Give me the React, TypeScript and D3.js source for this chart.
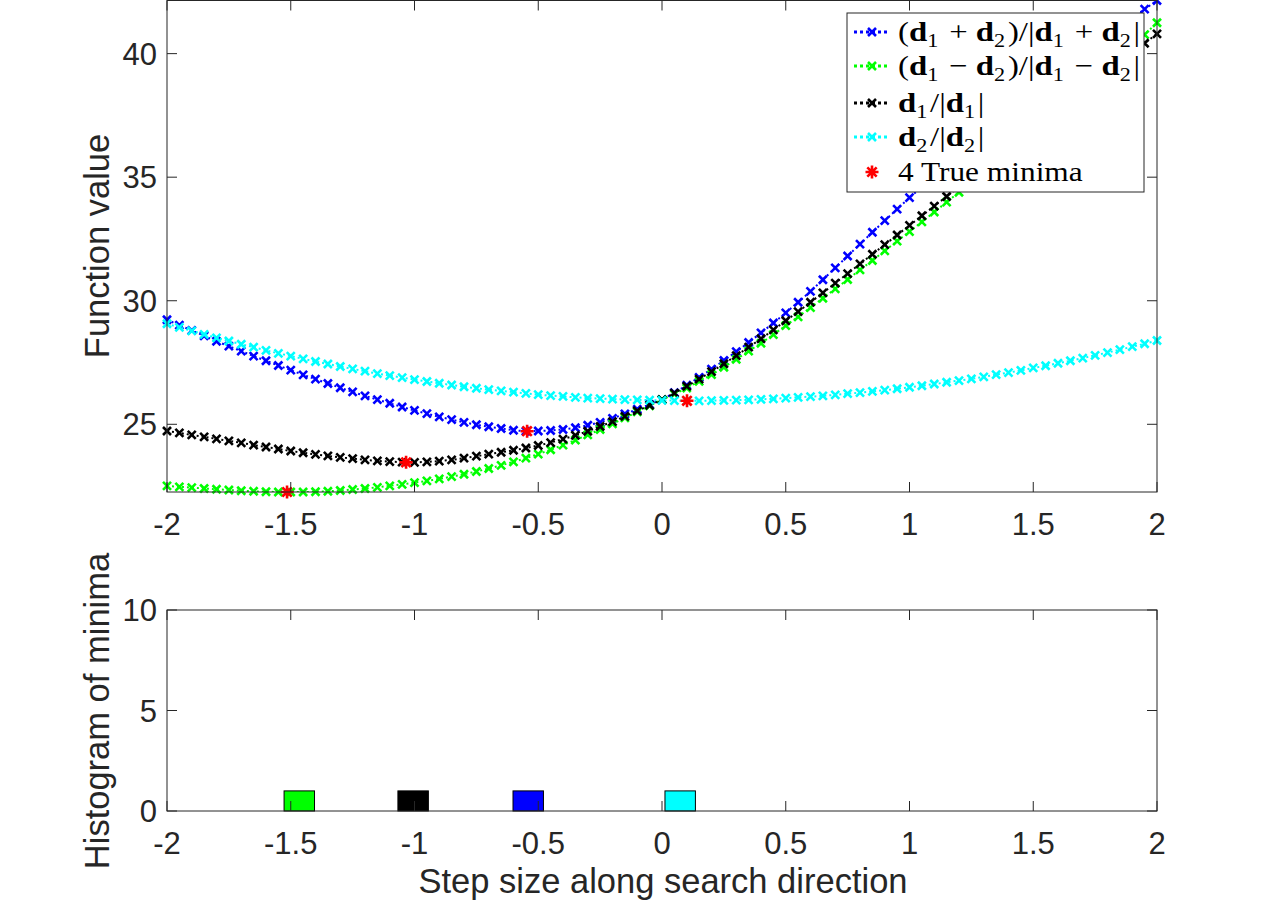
import * as d3 from 'd3';
import React from 'react';

// step sizes sampled along the search direction
const stepSizes = [
  -2, -1.95, -1.9, -1.85, -1.8, -1.75, -1.7, -1.65, -1.6, -1.55, -1.5, -1.45, -1.4, -1.35, -1.3, -1.25, -1.2,
  -1.15, -1.1, -1.05, -1, -0.95, -0.9, -0.85, -0.8, -0.75, -0.7, -0.65, -0.6, -0.55, -0.5, -0.45, -0.4, -0.35,
  -0.3, -0.25, -0.2, -0.15, -0.1, -0.05, 0, 0.05, 0.1, 0.15, 0.2, 0.25, 0.3, 0.35, 0.4, 0.45, 0.5, 0.55, 0.6,
  0.65, 0.7, 0.75, 0.8, 0.85, 0.9, 0.95, 1, 1.05, 1.1, 1.15, 1.2, 1.25, 1.3, 1.35, 1.4, 1.45, 1.5, 1.55, 1.6,
  1.65, 1.7, 1.75, 1.8, 1.85, 1.9, 1.95, 2,
];

// (d1+d2)/|d1+d2|
const fSum = [
  29.23, 29.01, 28.8, 28.58, 28.36, 28.16, 27.96, 27.76, 27.57, 27.38, 27.19, 27.0, 26.83, 26.65, 26.48, 26.31,
  26.15, 26.0, 25.85, 25.7, 25.56, 25.43, 25.3, 25.19, 25.08, 24.98, 24.9, 24.83, 24.76, 24.72, 24.73, 24.75,
  24.79, 24.86, 24.96, 25.08, 25.24, 25.42, 25.61, 25.8, 26.0, 26.28, 26.58, 26.9, 27.23, 27.58, 27.94, 28.31,
  28.7, 29.1, 29.51, 29.94, 30.38, 30.85, 31.33, 31.81, 32.29, 32.77, 33.24, 33.71, 34.17, 34.61, 35.05, 35.48,
  35.91, 36.33, 36.75, 37.16, 37.57, 37.97, 38.37, 38.77, 39.16, 39.55, 39.94, 40.32, 40.7, 41.07, 41.44, 41.8,
  42.15,
];

// (d1-d2)/|d1-d2|
const fDiff = [
  22.51, 22.47, 22.44, 22.4, 22.37, 22.34, 22.31, 22.29, 22.27, 22.26, 22.26, 22.26, 22.27, 22.29, 22.32, 22.36,
  22.4, 22.45, 22.51, 22.57, 22.64, 22.71, 22.79, 22.88, 22.98, 23.09, 23.21, 23.34, 23.48, 23.63, 23.79, 23.97,
  24.16, 24.36, 24.57, 24.79, 25.02, 25.26, 25.5, 25.75, 26.0, 26.22, 26.47, 26.74, 27.01, 27.31, 27.63, 27.96,
  28.28, 28.63, 28.99, 29.35, 29.72, 30.1, 30.48, 30.86, 31.25, 31.63, 32.02, 32.41, 32.8, 33.19, 33.59, 33.99,
  34.39, 34.8, 35.22, 35.63, 36.05, 36.47, 36.89, 37.31, 37.73, 38.15, 38.58, 39.0, 39.43, 39.87, 40.31, 40.77,
  41.25,
];

// d1/|d1|
const fD1 = [
  24.73, 24.65, 24.57, 24.49, 24.41, 24.33, 24.25, 24.16, 24.08, 24.0, 23.92, 23.85, 23.78, 23.72, 23.66, 23.61,
  23.56, 23.52, 23.49, 23.47, 23.46, 23.48, 23.51, 23.56, 23.63, 23.71, 23.79, 23.87, 23.95, 24.04, 24.14, 24.26,
  24.4, 24.55, 24.72, 24.91, 25.11, 25.32, 25.54, 25.77, 26.0, 26.26, 26.54, 26.83, 27.13, 27.45, 27.78, 28.12,
  28.46, 28.82, 29.19, 29.56, 29.94, 30.32, 30.71, 31.1, 31.49, 31.88, 32.27, 32.66, 33.05, 33.44, 33.83, 34.22,
  34.61, 35.0, 35.39, 35.78, 36.17, 36.56, 36.95, 37.34, 37.73, 38.11, 38.5, 38.88, 39.26, 39.65, 40.03, 40.42,
  40.8,
];

// d2/|d2|
const fD2 = [
  29.07, 28.92, 28.78, 28.64, 28.5, 28.37, 28.24, 28.12, 27.99, 27.87, 27.76, 27.65, 27.54, 27.44, 27.34, 27.24,
  27.15, 27.05, 26.97, 26.89, 26.81, 26.73, 26.66, 26.59, 26.52, 26.46, 26.4, 26.35, 26.3, 26.25, 26.2, 26.16,
  26.13, 26.09, 26.06, 26.04, 26.02, 26.0, 25.99, 25.98, 25.97, 25.96, 25.95, 25.95, 25.96, 25.97, 25.98, 25.99,
  26.01, 26.03, 26.06, 26.09, 26.12, 26.15, 26.19, 26.24, 26.28, 26.33, 26.38, 26.44, 26.5, 26.56, 26.63, 26.7,
  26.77, 26.84, 26.92, 27.01, 27.09, 27.18, 27.28, 27.37, 27.47, 27.57, 27.68, 27.79, 27.9, 28.02, 28.14, 28.26,
  28.39,
];

const minimaX = [-1.515, -1.034, -0.545, 0.101];
const minimaY = [22.26, 23.46, 24.72, 25.95];

// histogram of minima: bar left edges, bin width, counts
const histLeft = [-1.527, -1.067, -0.602, 0.012];
const histWidth = 0.123;
const histCounts = [1, 1, 1, 1];
const histColors = ['#00ff00', '#000000', '#0000ff', '#00ffff'];

const xTicks = [-2, -1.5, -1, -0.5, 0, 0.5, 1, 1.5, 2];
const yTicksTop = [25, 30, 35, 40];
const yTicksBottom = [0, 5, 10];

const series = [
  { label: '(d1 + d2)/|d1 + d2|', color: '#0000ff', values: fSum },
  { label: '(d1 \u2212 d2)/|d1 \u2212 d2|', color: '#00ff00', values: fDiff },
  { label: 'd1/|d1|', color: '#000000', values: fD1 },
  { label: 'd2/|d2|', color: '#00ffff', values: fD2 },
];

const AX = '#262626';
const SANS = '"Liberation Sans", Arial, sans-serif';
const SERIF = '"Liberation Serif", "DejaVu Serif", serif';

const left = 167;
const right = 1157;
const topY0 = 0.5;
const topY1 = 492;
const botY0 = 610;
const botY1 = 811;

function XMark({ x, y, color }: { x: number; y: number; color: string }) {
  const s = 4;
  return (
    <path
      d={`M${x - s},${y - s}L${x + s},${y + s}M${x - s},${y + s}L${x + s},${y - s}`}
      stroke={color}
      strokeWidth={2.6}
      fill="none"
    />
  );
}

function Star({ x, y }: { x: number; y: number }) {
  const s = 6.5;
  const d = s * 0.72;
  return (
    <path
      d={`M${x - s},${y}L${x + s},${y}M${x},${y - s}L${x},${y + s}M${x - d},${y - d}L${x + d},${y + d}M${x - d},${y + d}L${x + d},${y - d}`}
      stroke="#ff0000"
      strokeWidth={2.6}
      fill="none"
    />
  );
}

// bold d with numeric subscripts, like the LaTeX legend
function MathLabel({ text }: { text: string }) {
  const parts: React.ReactNode[] = [];
  let i = 0;
  let k = 0;
  while (i < text.length) {
    const c = text[i];
    if (c === 'd' && /[0-9]/.test(text[i + 1] ?? '')) {
      parts.push(
        <tspan key={k++} fontWeight="bold">
          d
        </tspan>,
      );
      parts.push(
        <tspan key={k++} fontSize={19} dy={6}>
          {text[i + 1]}
        </tspan>,
      );
      parts.push(
        <tspan key={k++} dy={-6}>
          {'\u200a'}
        </tspan>,
      );
      i += 2;
    } else if (c === ' ') {
      parts.push(<tspan key={k++}>{'\u2005'}</tspan>);
      i += 1;
    } else {
      parts.push(<tspan key={k++}>{c}</tspan>);
      i += 1;
    }
  }
  return <>{parts}</>;
}

function Frame({ x, y0, y1, yScale, yTicks, labelY, yLabel }: any) {
  const tick = 10;
  return (
    <g>
      <rect x={left} y={y0} width={right - left} height={y1 - y0} fill="none" stroke={AX} strokeWidth={1} />
      {xTicks.map((t) => (
        <g key={t}>
          <line x1={x(t)} x2={x(t)} y1={y1} y2={y1 - tick} stroke={AX} />
          <line x1={x(t)} x2={x(t)} y1={y0} y2={y0 + tick} stroke={AX} />
          <text x={x(t)} y={y1 + 43} textAnchor="middle" fontSize={31} fontFamily={SANS} fill={AX}>
            {String(t)}
          </text>
        </g>
      ))}
      {yTicks.map((t: number) => (
        <g key={t}>
          <line x1={left} x2={left + tick} y1={yScale(t)} y2={yScale(t)} stroke={AX} />
          <line x1={right} x2={right - tick} y1={yScale(t)} y2={yScale(t)} stroke={AX} />
          <text x={left - 10} y={yScale(t)} dy="0.36em" textAnchor="end" fontSize={31} fontFamily={SANS} fill={AX}>
            {String(t)}
          </text>
        </g>
      ))}
      <text
        transform={`translate(109,${labelY}) rotate(-90)`}
        textAnchor="middle"
        fontSize={34.5}
        fontFamily={SANS}
        fill={AX}
      >
        {yLabel}
      </text>
    </g>
  );
}

export default function App() {
  const x = d3.scaleLinear().domain([-2, 2]).range([left, right]);
  const yTop = d3.scaleLinear().domain([22.26, 42.15]).range([topY1, topY0]);
  const yBot = d3.scaleLinear().domain([0, 10]).range([botY1, botY0]);

  const line = d3
    .line<number>()
    .x((_, i) => x(stepSizes[i]))
    .y((v) => yTop(v));

  const legendX = 847;
  const legendY = 13;
  const rowY = [32, 66, 103, 137, 172];

  return (
    <div style={{ position: 'absolute', left: 0, top: 0 }}>
      <svg width={1280} height={907} style={{ display: 'block', background: '#fff' }}>
        <defs>
          <clipPath id="topClip">
            <rect x={left} y={topY0} width={right - left} height={topY1 - topY0} />
          </clipPath>
        </defs>

        {/* upper axes: function values along the line */}
        {series.map((s) => (
          <g key={s.label}>
            <path
              d={line(s.values) ?? ''}
              clipPath="url(#topClip)"
              fill="none"
              stroke={s.color}
              strokeWidth={2}
              strokeDasharray="2 3"
            />
            {s.values.map((v, i) => (
              <XMark key={i} x={x(stepSizes[i])} y={yTop(v)} color={s.color} />
            ))}
          </g>
        ))}
        {minimaX.map((m, i) => (
          <Star key={i} x={x(m)} y={yTop(minimaY[i])} />
        ))}
        <Frame x={x} y0={topY0} y1={topY1} yScale={yTop} yTicks={yTicksTop} labelY={246} yLabel="Function value" />

        {/* legend */}
        <g>
          <rect x={legendX} y={legendY} width={297} height={179} fill="#fff" stroke={AX} strokeWidth={1} />
          {series.map((s, i) => (
            <g key={s.label}>
              <line
                x1={854}
                x2={890}
                y1={rowY[i]}
                y2={rowY[i]}
                stroke={s.color}
                strokeWidth={3}
                strokeDasharray="3 3"
              />
              <XMark x={872} y={rowY[i]} color={s.color} />
              <text
                transform={`translate(898,${rowY[i] + 9}) scale(1.17,1)`}
                fontSize={28}
                fontFamily={SERIF}
                fill="#000"
              >
                <MathLabel text={s.label} />
              </text>
            </g>
          ))}
          <Star x={872} y={rowY[4]} />
          <text transform={`translate(898,${rowY[4] + 9}) scale(1.12,1)`} fontSize={28} fontFamily={SERIF} fill="#000">
            4 True minima
          </text>
        </g>

        {/* lower axes: histogram of minima */}
        {histLeft.map((b, i) => (
          <rect
            key={i}
            x={x(b)}
            y={yBot(histCounts[i])}
            width={x(b + histWidth) - x(b)}
            height={yBot(0) - yBot(histCounts[i])}
            fill={histColors[i]}
            stroke="#000"
            strokeWidth={1}
          />
        ))}
        <Frame x={x} y0={botY0} y1={botY1} yScale={yBot} yTicks={yTicksBottom} labelY={711} yLabel="Histogram of minima" />
        <text x={663} y={893} textAnchor="middle" fontSize={34.5} fontFamily={SANS} fill={AX}>
          Step size along search direction
        </text>
      </svg>
    </div>
  );
}
